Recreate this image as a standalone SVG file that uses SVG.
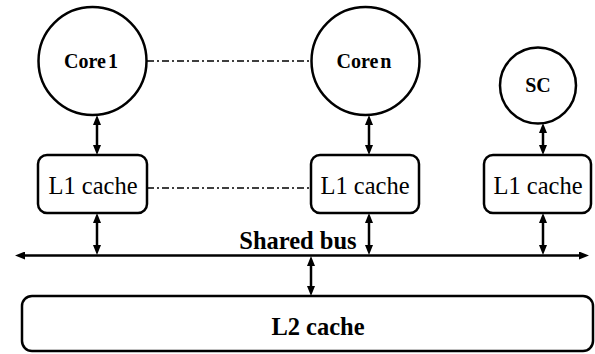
<svg xmlns="http://www.w3.org/2000/svg" width="595" height="354" viewBox="0 0 595 354">
  <style>
    .shape { fill: #ffffff; stroke: #000000; stroke-width: 2.5; }
    .link { stroke: #000000; stroke-width: 2.5; fill: none; marker-start: url(#head); marker-end: url(#head); }
    .dashdot { stroke: #000000; stroke-width: 1.5; fill: none; stroke-dasharray: 7 3 2 3; }
    text { font-family: "Liberation Serif", "Times New Roman", "DejaVu Serif", serif; fill: #000000; text-anchor: middle; }
    .core { font-size: 20px; font-weight: bold; word-spacing: -3px; }
    .l1 { font-size: 24.5px; }
    .big { font-size: 24.5px; font-weight: bold; }
  </style>
  <defs>
    <marker id="head" markerUnits="userSpaceOnUse" viewBox="0 0 10 8" refX="2" refY="4" markerWidth="10" markerHeight="8" orient="auto-start-reverse">
      <path d="M0,0 L10,4 L0,8 z" fill="#000000"/>
    </marker>
  </defs>

  <!-- cores -->
  <g id="core1">
    <circle class="shape" cx="92.5" cy="61" r="54"/>
    <text class="core" x="91" y="68">Core 1</text>
  </g>
  <g id="coren">
    <circle class="shape" cx="365.5" cy="61" r="54"/>
    <text class="core" x="364" y="68">Core n</text>
  </g>
  <g id="sc">
    <circle class="shape" cx="538" cy="85.5" r="38"/>
    <text class="core" x="538" y="92">SC</text>
  </g>

  <!-- private L1 caches -->
  <g id="l1-core1">
    <rect class="shape" x="38" y="155" width="109" height="58" rx="9"/>
    <text class="l1" x="93" y="194">L1 cache</text>
  </g>
  <g id="l1-coren">
    <rect class="shape" x="311" y="155" width="108" height="58" rx="9"/>
    <text class="l1" x="365" y="194">L1 cache</text>
  </g>
  <g id="l1-sc">
    <rect class="shape" x="484" y="155" width="107" height="58" rx="9"/>
    <text class="l1" x="538" y="194">L1 cache</text>
  </g>

  <!-- shared L2 -->
  <g id="l2">
    <rect class="shape" x="22" y="296" width="571" height="55" rx="10"/>
    <text class="big" x="318" y="335">L2 cache</text>
  </g>

  <!-- bus label -->
  <g id="bus">
    <text class="big" x="298" y="249">Shared bus</text>
  </g>

  <!-- connectors -->
  <g id="connectors">
    <line class="dashdot" x1="147" y1="61" x2="311" y2="61"/>
    <line class="dashdot" x1="147" y1="188" x2="311" y2="188"/>

    <!-- shared bus, arrowed both ways -->
    <line class="link" x1="23" y1="255.5" x2="581" y2="255.5"/>

    <!-- core to L1 -->
    <line class="link" x1="97" y1="123" x2="97" y2="147"/>
    <line class="link" x1="369" y1="123" x2="369" y2="147"/>
    <line class="link" x1="543" y1="131" x2="543" y2="147"/>

    <!-- L1 to bus -->
    <line class="link" x1="97" y1="221" x2="97" y2="247"/>
    <line class="link" x1="369" y1="221" x2="369" y2="247"/>
    <line class="link" x1="543" y1="221" x2="543" y2="247"/>

    <!-- bus to L2 -->
    <line class="link" x1="311" y1="264" x2="311" y2="288"/>
  </g>
</svg>
